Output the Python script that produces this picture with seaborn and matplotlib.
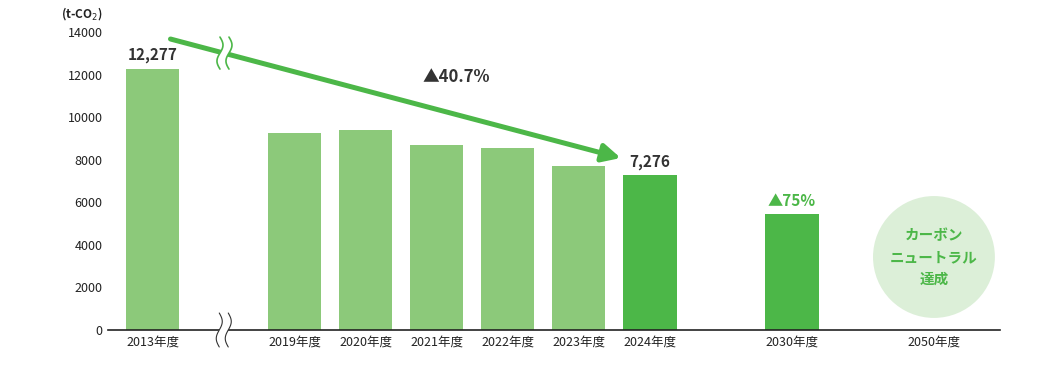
import numpy as np
import pandas as pd
import matplotlib
matplotlib.use("Agg")
import matplotlib.pyplot as plt
import seaborn as sns

# ---- data ----
years = ["2013年度", "2019年度", "2020年度", "2021年度", "2022年度", "2023年度", "2024年度", "2030年度", "2050年度"]
emissions = [12277, 9250, 9390, 8690, 8550, 7700, 7276, 5450, 0]
kind = ["past", "past", "past", "past", "past", "past", "current", "target", "goal"]
y_ticks = [0, 2000, 4000, 6000, 8000, 10000, 12000, 14000]
unit_label = "(t-CO$_2$)"
reduction_label = "▲40.7%"
target_label = "▲75%"
goal_label = "カーボン\nニュートラル\n達成"

# layout slots (positions on the axis)
slots = [0, 2, 3, 4, 5, 6, 7, 9, 11]

LIGHT = "#8cc97a"
DARK = "#4cb748"
CIRCLE = "#dcefd8"

sns.set_theme(style="white")
plt.rcParams["font.family"] = ["Noto Sans CJK JP", "DejaVu Sans"]

fig = plt.figure(figsize=(10.53, 3.79), dpi=100)
ax = fig.add_axes([108 / 1053, 49 / 379, (1000 - 108) / 1053, (330 - 32) / 379])

df = pd.DataFrame({"slot": slots, "value": emissions, "kind": kind})
bars = df[df["kind"] != "goal"]
sns.barplot(data=bars, x="slot", y="value", hue="kind", native_scale=True,
            palette={"past": LIGHT, "current": DARK, "target": DARK},
            width=0.75, legend=False, ax=ax, saturation=1, edgecolor="none")

ax.set_xlim(-0.63, 11.93)
ax.set_ylim(0, 14000)
ax.set_yticks(y_ticks)
ax.set_yticklabels([str(v) for v in y_ticks], fontsize=9, color="#222222")
ax.set_xticks(slots)
ax.set_xticklabels(years, fontsize=9, color="#222222")
ax.tick_params(axis="both", length=0, pad=4)
ax.set_xlabel("")
ax.set_ylabel("")
for s in ["top", "right", "left"]:
    ax.spines[s].set_visible(False)
ax.spines["bottom"].set_color("#222222")
ax.spines["bottom"].set_linewidth(1.2)

fig.text(82 / 1053, 1 - 14 / 379, unit_label, fontsize=8.5, fontweight="bold",
         ha="center", va="center", color="#222222")

# value labels
ax.text(slots[0], emissions[0] + 250, f"{emissions[0]:,}", ha="center", va="bottom",
        fontsize=11, fontweight="bold", color="#333333")
ax.text(slots[6], emissions[6] + 250, f"{emissions[6]:,}", ha="center", va="bottom",
        fontsize=11, fontweight="bold", color="#333333")
ax.text(slots[7], emissions[7] + 250, target_label, ha="center", va="bottom",
        fontsize=11, fontweight="bold", color=DARK)

# arrow
x0, y0 = 0.25, 13670
x1, y1 = 6.59, 8080
ax.annotate("", xy=(x1, y1), xytext=(x0, y0),
            arrowprops=dict(arrowstyle="-|>,head_length=0.9,head_width=0.45",
                            color=DARK, lw=3.6, shrinkA=0, shrinkB=0))
ax.text(4.27, 11900, reduction_label, ha="center", va="center", fontsize=12,
        fontweight="bold", color="#333333")

# goal circle
ax.scatter([slots[8]], [3430], s=7700, color=CIRCLE, edgecolors="none", zorder=1)
ax.text(slots[8], 3430, goal_label, ha="center", va="center", fontsize=10.5,
        fontweight="bold", color=DARK, linespacing=1.45)


def break_mark(xd, yd, height_px, gap_px, color, lw):
    inv = ax.transData.inverted()
    cx, cy = ax.transData.transform((xd, yd))
    t = np.linspace(-1, 1, 60)
    ys = cy + t * height_px / 2
    wave = 3.0 * np.sin(t * np.pi)
    left = np.column_stack([cx - gap_px / 2 + wave, ys])
    right = np.column_stack([cx + gap_px / 2 + wave, ys])
    poly = np.vstack([left, right[::-1]])
    pd_ = inv.transform(poly)
    ax.fill(pd_[:, 0], pd_[:, 1], color="white", zorder=5, clip_on=False, lw=0)
    for line in (left, right):
        l = inv.transform(line)
        ax.plot(l[:, 0], l[:, 1], color=color, lw=lw, zorder=6, clip_on=False,
                solid_capstyle="round")


fig.canvas.draw()
break_mark(1.0, 0, 34, 9, "#333333", 0.8)
break_mark(1.01, 13010, 32, 9, DARK, 1.2)

fig.savefig("out.png", dpi=100)
